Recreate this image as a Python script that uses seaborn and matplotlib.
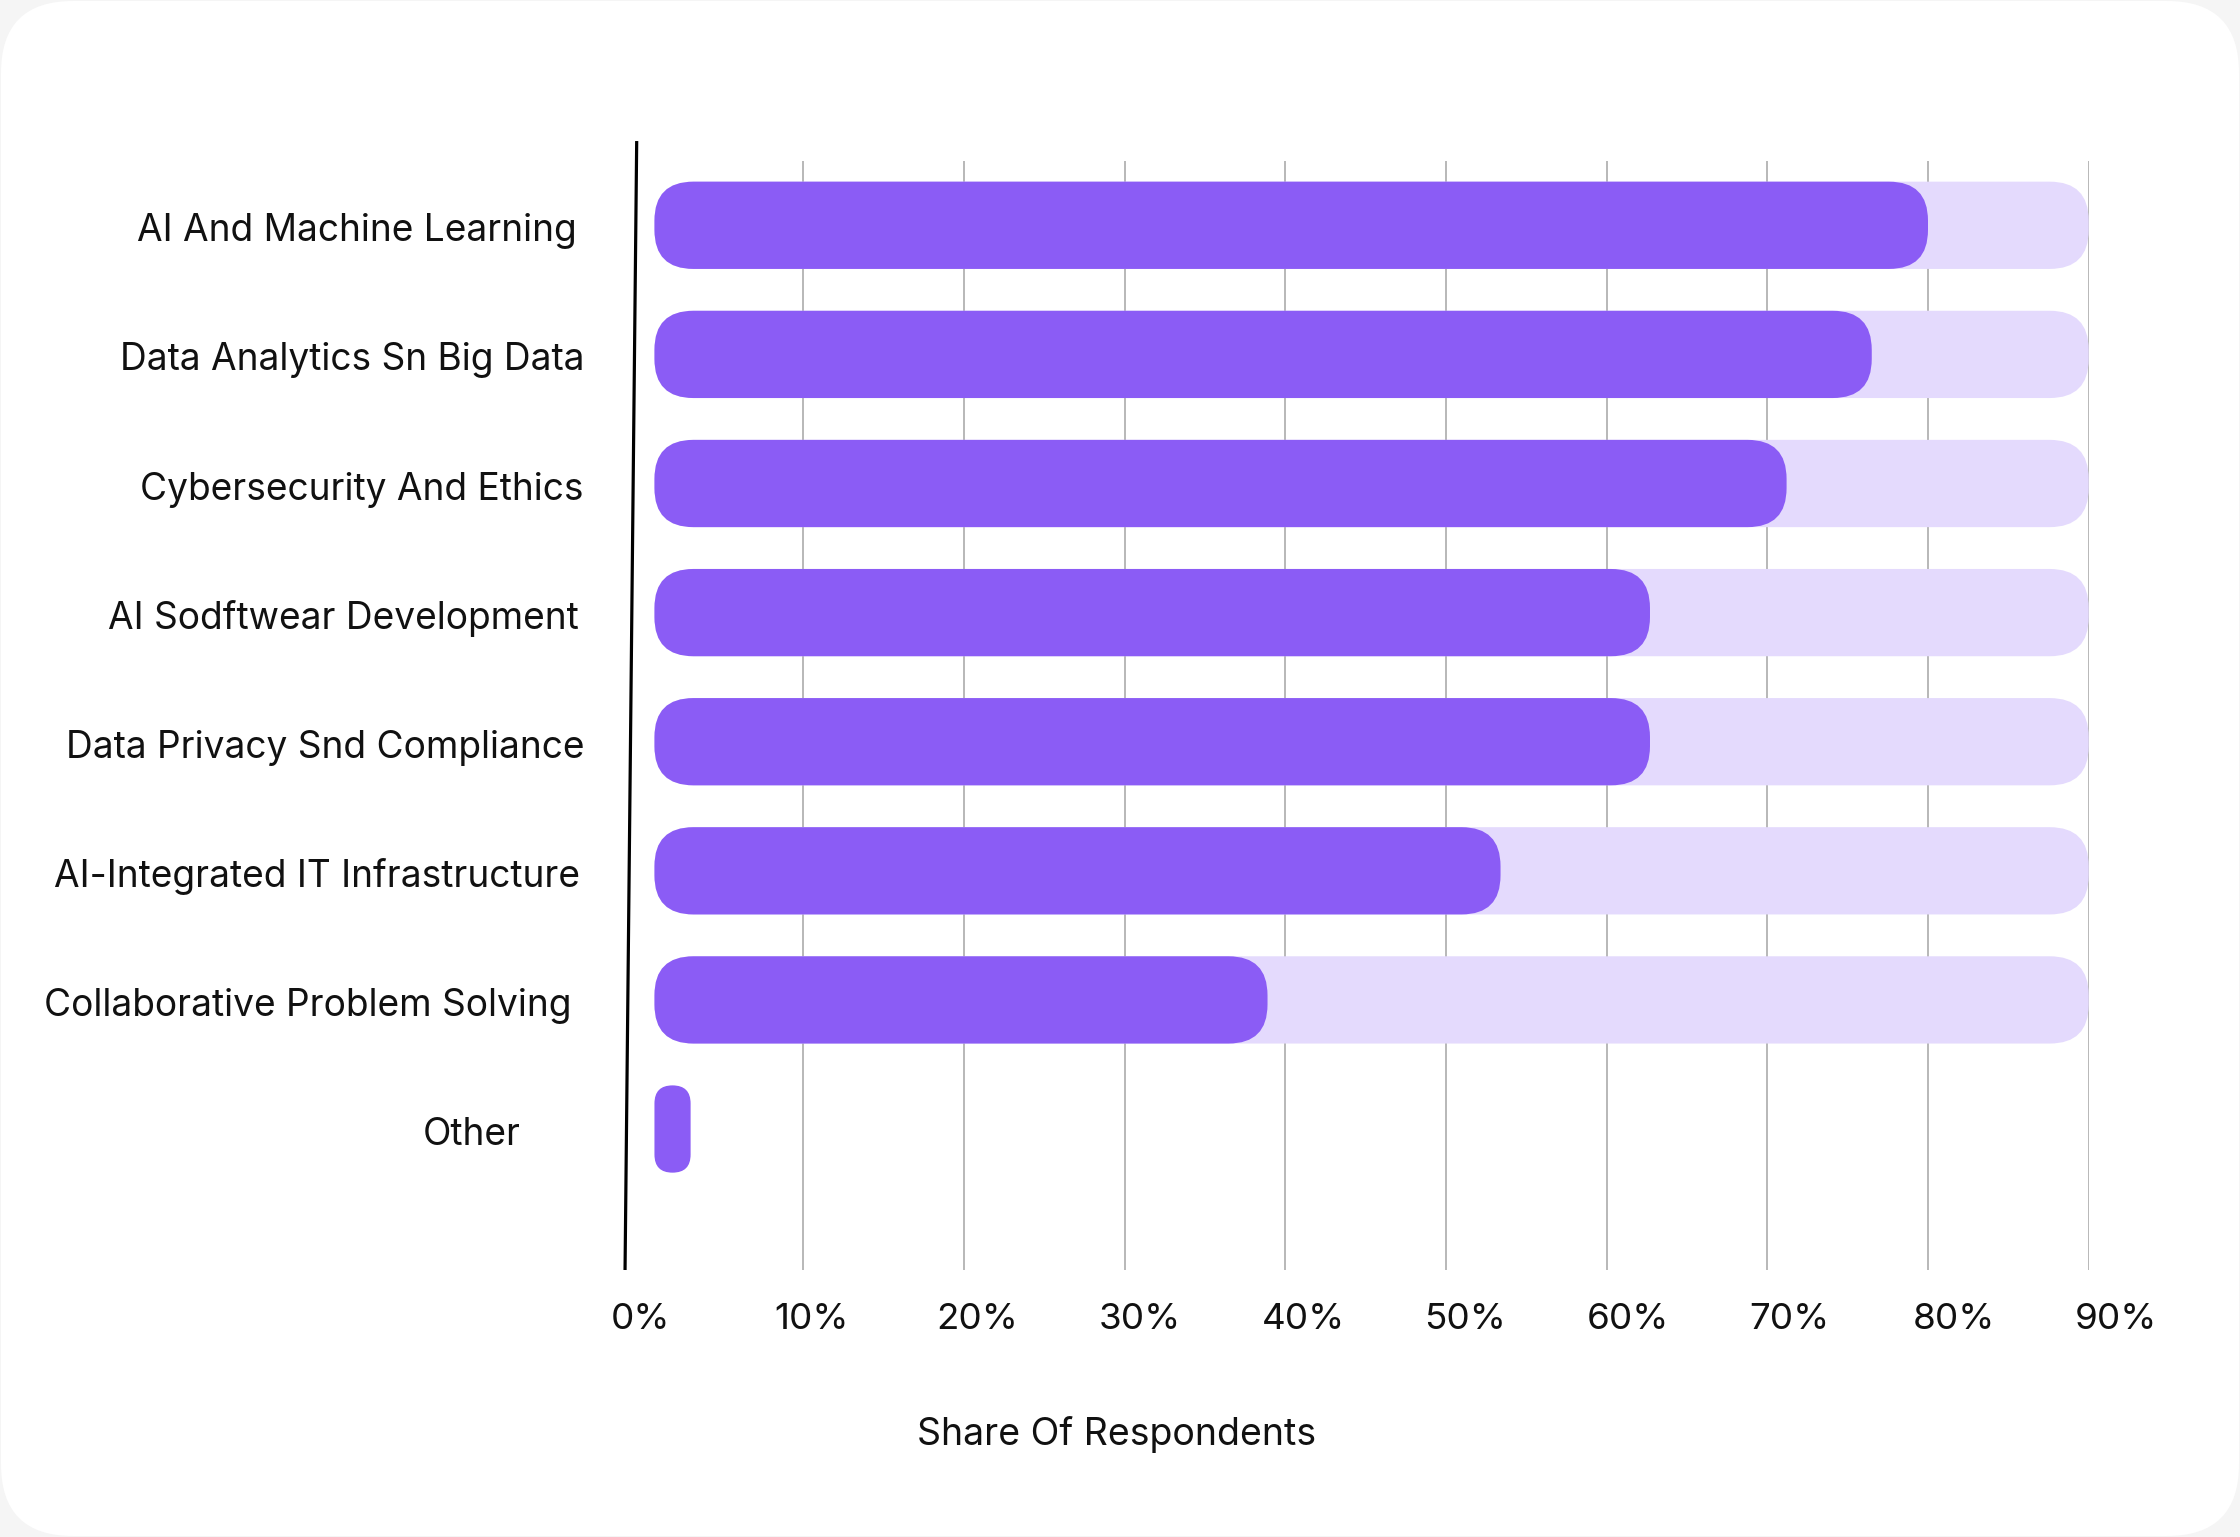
import matplotlib
matplotlib.use("Agg")
import matplotlib.pyplot as plt
import matplotlib.transforms as mtransforms
from matplotlib.patches import FancyBboxPatch
import seaborn as sns
import pandas as pd

# ---------------- data ----------------
categories = [
    "AI And Machine Learning",
    "Data Analytics Sn Big Data",
    "Cybersecurity And Ethics",
    "AI Sodftwear Development",
    "Data Privacy Snd Compliance",
    "AI-Integrated IT Infrastructure",
    "Collaborative Problem Solving",
    "Other",
]
values = [80.0, 76.5, 71.2, 62.7, 62.7, 53.4, 38.9, 3.0]
track_values = [90, 90, 90, 90, 90, 90, 90, 0]
tick_values = [0, 10, 20, 30, 40, 50, 60, 70, 80, 90]
tick_labels = [f"{v}%" for v in tick_values]
x_label = "Share Of Respondents"

# ---------------- style ----------------
PURPLE = "#8B5CF5"
TRACK = "#E4DAFD"
GRID = "#b8b8b8"
FONT = ["Inter", "DejaVu Sans"]
W, H, DPI = 2240, 1537, 100
BAR_START = 0.75          # bars begin slightly right of zero
BAR_H = 0.676
RADIUS_PX = 39
LABEL_RIGHT_PX = [577, 584, 584, 579, 584, 580, 571, 521]

sns.set_theme(style="white")
plt.rcParams["font.family"] = FONT

fig = plt.figure(figsize=(W / DPI, H / DPI), dpi=DPI)
fig.patch.set_facecolor("#f5f5f5")
card = FancyBboxPatch((1, 1), W - 2, H - 2, boxstyle="round,pad=0,rounding_size=72",
                      transform=None, facecolor="white", edgecolor="none", zorder=-10)
fig.patches.append(card)

# axes geometry (pixels)
X0_PX, PX_PER_UNIT = 642.4, 16.07
X_MIN, X_MAX = -2.5, 90
ax_l = X0_PX + X_MIN * PX_PER_UNIT
ax_r = X0_PX + X_MAX * PX_PER_UNIT
ax_t, ax_b = 161, 1270
Y_TOP, Y_BOT = -0.498, 8.092
ax = fig.add_axes([ax_l / W, 1 - ax_b / H, (ax_r - ax_l) / W, (ax_b - ax_t) / H])
ax.set_facecolor("none")
ax.set_zorder(5)

df = pd.DataFrame({"category": categories, "value": values, "track": track_values})
sns.barplot(data=df, x="track", y="category", color=TRACK, width=BAR_H,
            saturation=1, ax=ax, zorder=2)
sns.barplot(data=df, x="value", y="category", color=PURPLE, width=BAR_H,
            saturation=1, ax=ax, zorder=3)

ax.set_xlim(X_MIN, X_MAX)
ax.set_ylim(Y_BOT, Y_TOP)

# convert seaborn's rectangles into rounded bars
x_per_px = 1 / PX_PER_UNIT
y_per_px = (Y_BOT - Y_TOP) / (ax_b - ax_t)
aspect = y_per_px / x_per_px
r_data = RADIUS_PX * x_per_px
for p in list(ax.patches):
    x0, y0 = p.get_x(), p.get_y()
    w, h = p.get_width(), p.get_height()
    fc = p.get_facecolor()
    z = p.get_zorder()
    p.remove()
    if w <= 0:
        continue
    x0n = x0 + BAR_START
    wn = w - BAR_START
    r = min(r_data, wn / 2)
    fb = FancyBboxPatch((x0n, y0), wn, h,
                        boxstyle=f"round,pad=0,rounding_size={r}",
                        mutation_aspect=aspect, facecolor=fc, edgecolor="none",
                        zorder=z)
    ax.add_patch(fb)

# grid
ax.set_xticks(tick_values[1:])
ax.xaxis.grid(True, color=GRID, linewidth=1.4, zorder=1)
ax.yaxis.grid(False)
ax.set_axisbelow(True)
ax.tick_params(axis="x", length=0, labelbottom=False)
ax.tick_params(axis="y", length=0, labelleft=False)
ax.set_xlabel("")
ax.set_ylabel("")
for s in ax.spines.values():
    s.set_visible(False)

# slightly slanted axis line (x in data, y in axes fraction)
ax.plot([-0.355, -1.08], [1.018, 0.0], transform=ax.get_xaxis_transform(),
        color="black", linewidth=2.3, clip_on=False, zorder=5,
        solid_capstyle="butt")

# category labels
lab_trans = mtransforms.offset_copy(ax.get_yaxis_transform(), fig=fig, x=0, y=-6,
                                    units="dots")
for i, (lab, rpx) in enumerate(zip(categories, LABEL_RIGHT_PX)):
    xa = (rpx - ax_l) / (ax_r - ax_l)
    ax.text(xa, i, lab, transform=lab_trans, ha="right",
            va="center", fontsize=26.7, color="#111111", family=FONT, clip_on=False)

# tick labels on a secondary axis (slightly different spacing, left-aligned)
sec = ax.secondary_xaxis("bottom", functions=(lambda p: (p + 1.94) / 1.012,
                                              lambda s: s * 1.012 - 1.94))
sec.set_xticks(tick_values)
sec.set_xticklabels(tick_labels, ha="left", fontsize=26.5, color="#111111", family=FONT)
sec.tick_params(length=0, pad=24)
for s in sec.spines.values():
    s.set_visible(False)

fig.text(1117 / W, 1 - 1435 / H, x_label, ha="center", va="center",
         fontsize=27, color="#111111", family=FONT)

fig.savefig("out.png", dpi=DPI, facecolor=fig.get_facecolor())
